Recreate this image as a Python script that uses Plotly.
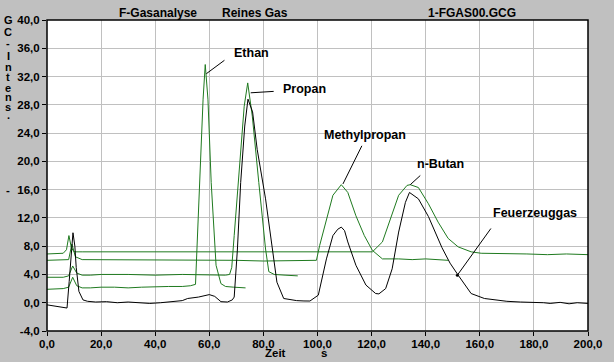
import plotly.graph_objects as go

# ---------------- data ----------------
feuer_t = [0, 2, 4, 6, 7.4, 8.2, 9.0, 9.6, 10.3, 10.8, 11.8, 13.3, 15, 18, 22, 26, 30, 34, 38, 42, 46, 50,
           52, 56, 60, 62, 64.3, 66.7, 68.5, 69.2, 70.4, 71.6, 73.1, 74.3, 76.0, 77.7, 80.8, 83.2, 85, 87.5,
           90, 92.3, 95, 97.2, 100.3, 103.3, 105.7, 107.5, 108.8, 110, 111.2, 114.2, 117.9, 121.5, 122.7,
           125.2, 127.6, 130, 132.5, 134.0, 137.3, 141, 146, 149, 152, 156.8, 161.7, 165.3, 170, 175, 180,
           183.6, 186, 189.7, 193, 196, 200]
feuer_v = [-0.3, -0.4, -0.5, -0.6, -0.75, 3.0, 7.5, 9.9, 8.0, 5.0, 1.6, 0.4, 0.2, 0.1, 0.15, 0.0, 0.1, 0.0,
           -0.1, 0.0, 0.1, 0.3, 0.6, 0.8, 1.15, 0.9, 0.15, 0.1, 0.4, 0.8, 7.6, 17.0, 25.0, 28.8, 27.0, 21.7,
           14.7, 7.6, 2.9, 0.6, 0.4, 0.3, 0.25, 0.24, 1.07, 6.2, 9.5, 10.4, 10.7, 10.2, 8.6, 5.3, 2.5, 1.3,
           1.25, 2.0, 4.8, 10.0, 14.2, 15.6, 14.7, 12.2, 7.8, 5.6, 3.9, 1.3, 0.6, 0.4, 0.2, 0.1, 0.1, 0.0,
           -0.1, 0.05, -0.15, 0.0, -0.1]

ethan_t = [0, 3, 6, 8, 9.5, 11, 13, 16, 20, 25, 30, 35, 40, 45, 50, 53, 54.9, 56.4, 57.7, 58.5, 59.5,
           60.7, 62.5, 64.3, 66, 69, 73.4]
ethan_v = [1.9, 1.9, 2.0, 2.2, 3.6, 2.4, 2.1, 2.1, 2.2, 2.2, 2.1, 2.2, 2.3, 2.3, 2.3, 2.4, 2.6, 17.0,
           28.8, 33.7, 28.8, 17.0, 5.3, 2.7, 2.3, 2.2, 2.1]

propan_t = [0, 3, 6, 8, 9.5, 11, 13, 16, 20, 30, 40, 50, 60, 66, 67.5, 68.3, 69.2, 71.1, 72.9, 74.2,
            75.9, 78.3, 80.8, 82, 84, 88, 92.7]
propan_v = [3.6, 3.6, 3.6, 3.8, 5.2, 4.2, 3.9, 3.9, 4.0, 4.0, 3.9, 4.0, 3.9, 3.9, 4.0, 5.0, 9.5, 19.4,
            27.8, 31.1, 26.4, 17.0, 7.6, 4.4, 4.0, 3.9, 3.8]

methyl_t = [0, 3, 6, 8, 9.2, 10.5, 13, 16, 20, 30, 40, 50, 60, 70, 80, 90, 99.6, 100.8, 103.3, 105.7,
            108.8, 111.2, 114.2, 117.3, 120.3, 124, 130, 135, 140, 148.3]
methyl_v = [6.0, 6.0, 6.0, 6.1, 8.3, 6.5, 6.1, 6.1, 6.1, 6.0, 6.1, 6.0, 6.1, 6.0, 5.9, 5.9, 6.0, 8.1,
            11.9, 15.2, 16.7, 15.6, 12.3, 9.5, 7.4, 6.2, 6.2, 6.1, 6.2, 6.0]

butan_t = [0, 3, 6, 7.2, 8.1, 9.0, 10, 13, 16, 20, 30, 40, 50, 60, 70, 80, 90, 100, 110, 120.3, 124,
           127, 130, 133.1, 134.3, 137.3, 141, 144.6, 148.3, 152, 156.8, 160.5, 165, 170, 177.4, 185,
           192, 200]
butan_v = [6.9, 6.9, 7.0, 7.5, 9.5, 7.8, 7.2, 7.2, 7.2, 7.2, 7.1, 7.2, 7.2, 7.1, 7.2, 7.2, 7.1, 7.2,
           7.1, 7.2, 8.6, 11.9, 15.2, 16.6, 16.7, 16.3, 14.0, 11.4, 9.1, 7.9, 7.2, 7.0, 7.0, 6.9, 6.9,
           6.8, 6.9, 6.8]

x_ticks = [0, 20, 40, 60, 80, 100, 120, 140, 160, 180, 200]
x_tick_labels = ["0,0", "20,0", "40,0", "60,0", "80,0", "100,0", "120,0", "140,0", "160,0", "180,0", "200,0"]
y_ticks = [-4, 0, 4, 8, 12, 16, 20, 24, 28, 32, 36, 40]
y_tick_labels = ["-4,0", "0,0", "4,0", "8,0", "12,0", "16,0", "20,0", "24,0", "28,0", "32,0", "36,0", "40,0"]

titles = ["F-Gasanalyse", "Reines Gas", "1-FGAS00.GCG"]

# peak labels: (text, text x, text y, leader start x, y, leader end x, y)
labels = [
    ("Ethan", 75.7, 35.4, 65.6, 34.3, 58.9, 32.4),
    ("Propan", 95.3, 30.2, 83.8, 29.9, 75.3, 29.7),
    ("Methylpropan", 117.6, 23.8, 116.4, 22.2, 109.4, 16.8),
    ("n-Butan", 145.4, 19.6, 138.0, 18.0, 134.3, 16.7),
    ("Feuerzeuggas", 180.4, 12.7, 164.1, 10.5, 151.7, 3.9),
]

# ---------------- figure ----------------
W, H = 614, 362
ML, MR, MT, MB = 47, 19, 20, 29
PW, PH = W - ML - MR, H - MT - MB

def px(x):
    return (x - ML) / PW

def py(y):
    return (H - MB - y) / PH

GREEN = "#1F7A1F"
FONT = "Liberation Sans"

fig = go.Figure()
for t, v, name, col in [
    (ethan_t, ethan_v, "Ethan", GREEN),
    (propan_t, propan_v, "Propan", GREEN),
    (methyl_t, methyl_v, "Methylpropan", GREEN),
    (butan_t, butan_v, "n-Butan", GREEN),
    (feuer_t, feuer_v, "Feuerzeuggas", "#000000"),
]:
    fig.add_trace(go.Scatter(x=t, y=v, mode="lines", name=name,
                             line=dict(color=col, width=1), hoverinfo="x+y+name"))

annotations = []
shapes = []
for text, tx, ty, x0, y0, x1, y1 in labels:
    annotations.append(dict(x=tx, y=ty, xref="x", yref="y", text=text, showarrow=False,
                            font=dict(family=FONT, size=12.5, color="black", weight="bold"),
                            xanchor="center", yanchor="middle"))
    shapes.append(dict(type="line", xref="x", yref="y", x0=x0, y0=y0, x1=x1, y1=y1,
                       line=dict(color="black", width=1)))
# dot at end of Feuerzeuggas leader
fx, fy = labels[-1][5], labels[-1][6]
fig.add_trace(go.Scatter(x=[fx], y=[fy], mode="markers", marker=dict(color="black", size=3),
                         showlegend=False, hoverinfo="skip"))

for text, cx in zip(titles, [159, 258, 478]):
    annotations.append(dict(x=px(cx), y=py(12.5), xref="paper", yref="paper", text=text,
                            showarrow=False, xanchor="center", yanchor="middle",
                            font=dict(family=FONT, size=12, color="black", weight="bold")))

ylabel_chars = list("GC-Intens.")
ylabel_pos = [20.5, 32, 43.5, 56.5, 67.5, 77.5, 88, 97.5, 107.5, 116]
for ch, yy in zip(ylabel_chars, ylabel_pos):
    annotations.append(dict(x=px(8), y=py(yy), xref="paper", yref="paper", text=ch,
                            showarrow=False, xanchor="center", yanchor="middle",
                            font=dict(family=FONT, size=11, color="black", weight="bold")))
annotations.append(dict(x=px(8), y=py(191), xref="paper", yref="paper", text="-",
                        showarrow=False, xanchor="center", yanchor="middle",
                        font=dict(family=FONT, size=11.5, color="black", weight="bold")))
annotations.append(dict(x=px(278), y=py(355), xref="paper", yref="paper", text="Zeit",
                        showarrow=False, xanchor="center", yanchor="middle",
                        font=dict(family=FONT, size=11.5, color="black", weight="bold")))
annotations.append(dict(x=px(328), y=py(355.5), xref="paper", yref="paper", text="s",
                        showarrow=False, xanchor="center", yanchor="middle",
                        font=dict(family=FONT, size=11.5, color="black", weight="bold")))

shapes.append(dict(type="rect", xref="paper", yref="paper", x0=0, y0=0, x1=1, y1=1,
                   line=dict(color="black", width=1.5), layer="above"))

fig.update_layout(
    width=W, height=H,
    margin=dict(l=ML, r=MR, t=MT, b=MB, pad=0),
    paper_bgcolor="#C0C0C0", plot_bgcolor="white",
    showlegend=False,
    annotations=annotations, shapes=shapes,
    font=dict(family=FONT, size=11.5, color="black"),
)
fig.update_xaxes(range=[0, 200], tickvals=x_ticks, ticktext=x_tick_labels,
                 showgrid=True, gridcolor="#C0C0C0", gridwidth=1, zeroline=False,
                 ticks="outside", ticklen=4, tickcolor="black", tickwidth=1,
                 showline=False, tickangle=0, ticklabelstandoff=-2,
                 tickfont=dict(family=FONT, size=11.5, color="black", weight="bold"))
fig.update_yaxes(range=[-4, 40], tickvals=y_ticks, ticktext=y_tick_labels,
                 showgrid=True, gridcolor="#C0C0C0", gridwidth=1, zeroline=False,
                 ticks="outside", ticklen=4, tickcolor="black", tickwidth=1,
                 showline=False,
                 tickfont=dict(family=FONT, size=11.5, color="black", weight="bold"))

fig.write_html("out.html", config={"displayModeBar": False},
               post_script="document.body.style.margin='0';document.body.style.padding='0';"
                           "document.body.style.background='#C0C0C0';"
                           "document.body.style.overflow='hidden';")
